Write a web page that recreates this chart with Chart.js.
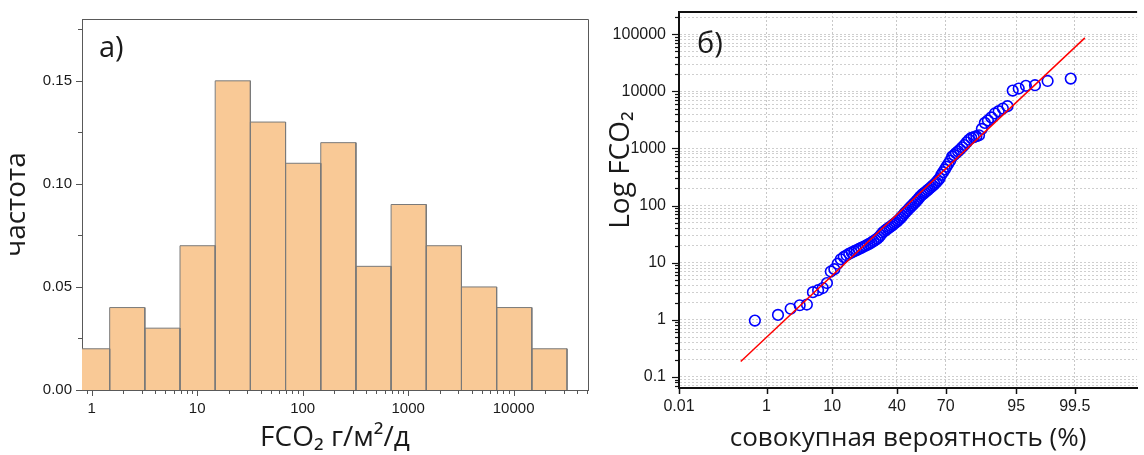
<!DOCTYPE html>
<html>
<head>
<meta charset="utf-8">
<script src="https://cdn.jsdelivr.net/npm/chart.js@4.4.0/dist/chart.umd.min.js"></script>
<style>
  html, body { margin: 0; padding: 0; background: #fff; }
  #wrap { position: relative; width: 1144px; height: 455px; overflow: hidden; }
  #histCanvas { position: absolute; left: 0; top: 0; }
  #probCanvas { position: absolute; left: 600px; top: 0; }
</style>
</head>
<body>
<div id="wrap">
  <canvas id="histCanvas" width="600" height="455"></canvas>
  <canvas id="probCanvas" width="544" height="455"></canvas>
</div>
<script>
// ---- panel а) histogram of FCO2 ----
const binEdges = [0.687, 1.482, 3.193, 6.88, 14.83, 31.96, 68.9, 148.5, 320, 689.5, 1486, 3203, 6903, 14880, 32070];
const binFreq = [0.02, 0.04, 0.03, 0.07, 0.15, 0.13, 0.11, 0.12, 0.06, 0.09, 0.07, 0.05, 0.04, 0.02];
const histXTicks = [1, 10, 100, 1000, 10000];
const histYTicks = [0, 0.05, 0.10, 0.15];
const histYTickLabels = ['0.00', '0.05', '0.10', '0.15'];
const histYMinor = [0.025, 0.075, 0.125, 0.175];

// ---- panel б) probability plot ----
const probTickPct = [0.01, 1, 10, 40, 70, 95, 99.5];
const probTickLabels = ['0.01', '1', '10', '40', '70', '95', '99.5'];
const probYTicks = [0.1, 1, 10, 100, 1000, 10000, 100000];
const cumPct = [
  0.6, 1.6, 2.6, 3.6, 4.6, 5.6, 6.6, 7.6, 8.6, 9.6,
  10.6, 11.6, 12.6, 13.6, 14.6, 15.6, 16.6, 17.6, 18.6, 19.6,
  20.6, 21.6, 22.6, 23.6, 24.6, 25.6, 26.6, 27.6, 28.6, 29.6,
  30.5, 31.5, 32.5, 33.5, 34.5, 35.5, 36.5, 37.5, 38.5, 39.5,
  40.5, 41.5, 42.5, 43.5, 44.5, 45.5, 46.5, 47.5, 48.5, 49.5,
  50.5, 51.5, 52.5, 53.5, 54.5, 55.5, 56.5, 57.5, 58.5, 59.5,
  60.5, 61.5, 62.5, 63.5, 64.5, 65.5, 66.5, 67.5, 68.5, 69.5,
  70.4, 71.4, 72.4, 73.4, 74.4, 75.4, 76.4, 77.4, 78.4, 79.4,
  80.4, 81.4, 82.4, 83.4, 84.4, 85.4, 86.4, 87.4, 88.4, 89.4,
  90.4, 91.4, 92.4, 93.4, 94.4, 95.4, 96.4, 97.4, 98.4, 99.4
];
const fluxSorted = [
  0.97, 1.22, 1.56, 1.8, 1.85, 3.05, 3.3, 3.6, 4.4, 7.0,
  7.7, 9.6, 11.5, 12.6, 13.5, 14.4, 15.1, 15.9, 16.6, 17.4,
  18.2, 19.0, 19.8, 20.7, 21.6, 22.6, 23.8, 25.0, 26.4, 28.2,
  30.5, 33.5, 35.5, 37.5, 39.5, 41.5, 43.5, 46, 48.5, 51,
  54, 57.5, 61.5, 66, 72, 77, 82, 88, 94, 100,
  107, 114, 122, 131, 142, 152, 160, 169, 178, 188,
  199, 211, 224, 238, 255, 276, 300, 345, 385, 430,
  480, 540, 610, 720, 770, 830, 890, 960, 1050, 1150,
  1280, 1420, 1530, 1580, 1640, 1700, 2200, 2800, 3100, 3500,
  4100, 4500, 5000, 5500, 10300, 11200, 12500, 12800, 15200, 16700
];
const fitPct = [0.31, 99.69];
const fitFlux = [0.186, 86300];

const TICK_FONT = 'Liberation Sans';
const TITLE_FONT = 'Open Sans';
const INK = '#1a1a1a';

// inverse normal CDF (Acklam)
function probit(p) {
  const a = [-39.69683028665376, 220.9460984245205, -275.9285104469687, 138.3577518672690, -30.66479806614716, 2.506628277459239];
  const b = [-54.47609879822406, 161.5858368580409, -155.6989798598866, 66.80131188771972, -13.28068155288572];
  const c = [-0.007784894002430293, -0.3223964580411365, -2.400758277161838, -2.549732539343734, 4.374664141464968, 2.938163982698783];
  const d = [0.007784695709041462, 0.3224671290700398, 2.445134137142996, 3.754408661907416];
  const lo = 0.02425;
  if (p < lo) {
    const q = Math.sqrt(-2 * Math.log(p));
    return (((((c[0]*q+c[1])*q+c[2])*q+c[3])*q+c[4])*q+c[5]) / ((((d[0]*q+d[1])*q+d[2])*q+d[3])*q+1);
  }
  if (p > 1 - lo) {
    const q = Math.sqrt(-2 * Math.log(1 - p));
    return -(((((c[0]*q+c[1])*q+c[2])*q+c[3])*q+c[4])*q+c[5]) / ((((d[0]*q+d[1])*q+d[2])*q+d[3])*q+1);
  }
  const q = p - 0.5, r = q * q;
  return (((((a[0]*r+a[1])*r+a[2])*r+a[3])*r+a[4])*r+a[5])*q / (((((b[0]*r+b[1])*r+b[2])*r+b[3])*r+b[4])*r+1);
}

// normal probability axis: values in percent, spaced by their normal quantile
class ProbabilityScale extends Chart.LinearScale {
  buildTicks() {
    return probTickPct.map(v => ({ value: v }));
  }
  getPixelForValue(value) {
    if (value === null || value === undefined) return NaN;
    const z0 = probit(this.min / 100), z1 = probit(this.max / 100);
    return this.getPixelForDecimal((probit(value / 100) - z0) / (z1 - z0));
  }
}
ProbabilityScale.id = 'probability';
Chart.register(ProbabilityScale);

// 1..9 x 10^k between lo and hi
function logSteps(lo, hi) {
  const out = [];
  for (let e = -2; e <= 6; e++) {
    for (let m = 1; m <= 9; m++) {
      const v = m * Math.pow(10, e);
      if (v >= lo * 0.9999 && v <= hi) out.push(v);
    }
  }
  return out;
}
const isDecade = v => Math.abs(Math.log10(v) - Math.round(Math.log10(v))) < 1e-9;

// outward tick marks, long for major, short for minor
function drawTicks(chart, id, items, color, width) {
  const s = chart.scales[id], a = chart.chartArea, ctx = chart.ctx;
  ctx.save();
  ctx.strokeStyle = color;
  ctx.lineWidth = width;
  items.forEach(([v, len]) => {
    const p = Math.round(s.getPixelForValue(v)) + 0.5;
    ctx.beginPath();
    if (s.isHorizontal()) { ctx.moveTo(p, a.bottom); ctx.lineTo(p, a.bottom + len); }
    else { ctx.moveTo(a.left, p); ctx.lineTo(a.left - len, p); }
    ctx.stroke();
  });
  ctx.restore();
}

// ---------- left chart ----------
const histSets = binFreq.map((f, i) => ({
  data: [
    { x: binEdges[i], y: 0 }, { x: binEdges[i], y: f },
    { x: binEdges[i + 1], y: f }, { x: binEdges[i + 1], y: 0 }
  ],
  fill: 'origin',
  backgroundColor: '#f9c996',
  borderColor: '#7a7a7a',
  borderWidth: 1,
  pointRadius: 0,
  tension: 0
}));

const histDecor = {
  id: 'histDecor',
  afterDraw(chart) {
    const a = chart.chartArea, ctx = chart.ctx;
    const xMinor = logSteps(0.81, 50700).filter(v => !isDecade(v));
    drawTicks(chart, 'x', histXTicks.map(v => [v, 6]).concat(xMinor.map(v => [v, 4])), '#555', 1);
    drawTicks(chart, 'y', histYTicks.map(v => [v, 6]).concat(histYMinor.map(v => [v, 4])), '#555', 1);
    ctx.save();
    ctx.strokeStyle = '#595959';
    ctx.lineWidth = 1;
    ctx.beginPath();
    ctx.moveTo(Math.round(a.left), Math.round(a.top) + 0.5);
    ctx.lineTo(Math.round(a.right) + 0.5, Math.round(a.top) + 0.5);
    ctx.lineTo(Math.round(a.right) + 0.5, a.bottom);
    ctx.stroke();
    ctx.fillStyle = INK;
    ctx.font = '29px "' + TITLE_FONT + '"';
    ctx.textBaseline = 'alphabetic';
    ctx.fillText('а)', a.left + 17, a.top + 38);
    ctx.restore();
  }
};

new Chart(document.getElementById('histCanvas'), {
  type: 'line',
  data: { datasets: histSets },
  plugins: [histDecor],
  options: {
    responsive: false,
    animation: false,
    events: [],
    layout: { padding: { top: 19, right: 12, left: 0, bottom: 0 } },
    plugins: { legend: { display: false }, tooltip: { enabled: false }, filler: { drawTime: 'beforeDatasetsDraw' } },
    scales: {
      x: {
        type: 'logarithmic', min: 0.81, max: 50700,
        afterBuildTicks: s => { s.ticks = histXTicks.map(v => ({ value: v })); },
        afterFit: s => { s.height = 65; },
        grid: { display: false, drawTicks: false },
        border: { display: true, color: '#595959', width: 1 },
        ticks: { autoSkip: false, maxRotation: 0, padding: 10, color: INK, font: { family: TICK_FONT, size: 15 }, callback: v => String(v) },
        title: { display: true, text: 'FCO₂ г/м²/д', color: INK, font: { family: TITLE_FONT, size: 28 }, padding: { top: 0, bottom: 0 } }
      },
      y: {
        type: 'linear', min: 0, max: 0.18,
        afterBuildTicks: s => { s.ticks = histYTicks.map(v => ({ value: v })); },
        afterFit: s => { s.width = 82; s.paddingTop = 0; s.paddingBottom = 0; },
        grid: { display: false, drawTicks: false },
        border: { display: true, color: '#595959', width: 1 },
        ticks: { autoSkip: false, padding: 10, color: INK, font: { family: TICK_FONT, size: 15 }, callback: (v, i) => histYTickLabels[i] },
        title: { display: true, text: 'частота', color: INK, font: { family: TITLE_FONT, size: 28 }, padding: { top: 0, bottom: 0 } }
      }
    }
  }
});

// ---------- right chart ----------
const probDecor = {
  id: 'probDecor',
  afterDraw(chart) {
    const a = chart.chartArea, ctx = chart.ctx;
    drawTicks(chart, 'x', probTickPct.map(v => [v, 6]), '#111', 1.5);
    drawTicks(chart, 'y', chart.scales.y.ticks.map(t => [t.value, isDecade(t.value) ? 7 : 4]), '#111', 1.2);
    ctx.save();
    ctx.strokeStyle = '#111';
    ctx.lineWidth = 2;
    ctx.beginPath();
    ctx.moveTo(a.left - 1, Math.round(a.top));
    ctx.lineTo(a.right, Math.round(a.top));
    ctx.stroke();
    ctx.fillStyle = INK;
    ctx.font = '29px "' + TITLE_FONT + '"';
    ctx.textBaseline = 'alphabetic';
    ctx.fillText('б)', a.left + 18, a.top + 41);
    ctx.translate(29, 170);
    ctx.rotate(-Math.PI / 2);
    ctx.textAlign = 'center';
    ctx.font = '28px "' + TITLE_FONT + '"';
    ctx.fillText('Log FCO₂', 0, 0);
    ctx.restore();
  }
};

new Chart(document.getElementById('probCanvas'), {
  type: 'scatter',
  data: {
    datasets: [
      {
        data: fitPct.map((p, i) => ({ x: p, y: fitFlux[i] })),
        showLine: true, borderColor: '#ff0000', borderWidth: 1.5, pointRadius: 0, fill: false
      },
      {
        data: cumPct.map((p, i) => ({ x: p, y: fluxSorted[i] })),
        showLine: false, pointStyle: 'circle', pointRadius: 5.3,
        pointBorderColor: '#0000ff', pointBackgroundColor: 'rgba(0,0,0,0)', pointBorderWidth: 1.6
      }
    ]
  },
  plugins: [probDecor],
  options: {
    responsive: false,
    animation: false,
    events: [],
    layout: { padding: { top: 12, right: 0, left: 0, bottom: 0 } },
    plugins: { legend: { display: false }, tooltip: { enabled: false } },
    scales: {
      x: {
        type: 'probability', min: 0.01, max: 99.982,
        afterFit: s => { s.height = 67; },
        grid: { display: true, drawTicks: false, color: '#c8c8c8', lineWidth: 1 },
        border: { display: true, color: '#111', width: 2, dash: [2, 2] },
        ticks: { autoSkip: false, maxRotation: 0, padding: 9, color: INK, font: { family: TICK_FONT, size: 16 }, callback: (v, i) => probTickLabels[i] },
        title: { display: true, text: 'совокупная вероятность (%)', color: INK, font: { family: TITLE_FONT, size: 26 }, padding: { top: 0, bottom: 1 } }
      },
      y: {
        type: 'logarithmic', min: 0.064, max: 245000,
        afterBuildTicks: s => { s.ticks = logSteps(0.064, 245000).map(v => ({ value: v })); },
        afterFit: s => { s.width = 79; s.paddingTop = 0; s.paddingBottom = 0; },
        grid: { display: true, drawTicks: false, color: '#cfcfcf', lineWidth: 1 },
        border: { display: true, color: '#111', width: 2, dash: [2, 2] },
        ticks: {
          autoSkip: false, padding: 13, color: INK, font: { family: TICK_FONT, size: 16 },
          callback: v => { const k = probYTicks.findIndex(t => Math.abs(t - v) / t < 1e-6); return k >= 0 ? String(probYTicks[k]) : ''; }
        }
      }
    }
  }
});
</script>
</body>
</html>
